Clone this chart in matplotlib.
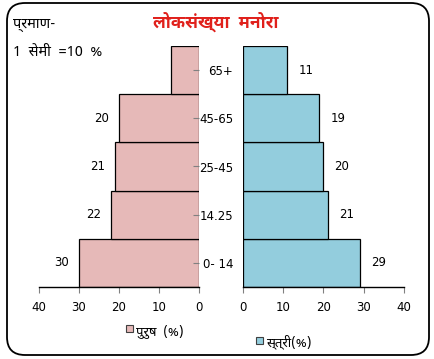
import matplotlib
matplotlib.use("Agg")
import matplotlib.pyplot as plt
from matplotlib.patches import FancyBboxPatch, Rectangle

# data (bottom to top)
age_groups = ["0- 14", "14.25", "25-45", "45-65", "65+"]
male = [30, 22, 21, 20, 7]
female = [29, 21, 20, 19, 11]
male_labels = ["30", "22", "21", "20", ""]
female_labels = ["29", "21", "20", "19", "11"]
x_ticks = [0, 10, 20, 30, 40]

pink = "#E6B9B8"
blue = "#93CDDD"
deva = ["Noto Sans Devanagari", "Noto Sans Devanagari UI", "Mukta", "DejaVu Sans"]
deva_bold = ["Noto Sans Devanagari UI", "Noto Sans Devanagari", "Mukta", "DejaVu Sans"]

fig = plt.figure(figsize=(4.35, 3.59), dpi=100)

ax_l = fig.add_axes([39 / 435, 72 / 359, 160 / 435, 241 / 359])
ax_r = fig.add_axes([243 / 435, 72 / 359, 161 / 435, 241 / 359])

pos = range(len(age_groups))
bars_l = ax_l.barh(pos, male, height=1.0, color=pink, edgecolor="black", linewidth=0.9)
bars_r = ax_r.barh(pos, female, height=1.0, color=blue, edgecolor="black", linewidth=0.9)

ax_l.set_xlim(40, 0)
ax_r.set_xlim(0, 40)
for ax in (ax_l, ax_r):
    ax.set_ylim(-0.5, 4.5)
    ax.set_xticks(x_ticks)
    ax.set_xticklabels([str(t) for t in x_ticks], fontsize=8.5)
    ax.tick_params(axis="x", length=4, color="#808080", pad=6)
    for s in ("top", "left", "right"):
        ax.spines[s].set_visible(False)
    ax.spines["bottom"].set_linewidth(1.0)

ax_l.yaxis.tick_right()
ax_l.set_yticks(list(pos))
ax_l.set_yticklabels([])
ax_l.tick_params(axis="y", length=4, color="#808080", direction="in")

ax_r.set_yticks(list(pos))
ax_r.set_yticklabels(age_groups, fontsize=8.5)
ax_r.tick_params(axis="y", length=0, pad=7)

ax_l.bar_label(bars_l, labels=male_labels, padding=7, fontsize=8.5)
ax_r.bar_label(bars_r, labels=female_labels, padding=8, fontsize=8.5)

# title and scale note
fig.text(216 / 435, 1 - 22 / 359, "लोकसंख्या  मनोरा", color="#E0201B", fontsize=12.5,
         fontweight="bold", ha="center", va="center", family=deva_bold)
fig.text(13 / 435, 1 - 24 / 359, "प्रमाण-", fontsize=10.5, ha="left", va="center", family=deva)
fig.text(13 / 435, 1 - 52 / 359, "1  सेमी  =10  %", fontsize=10.5, ha="left", va="center", family=deva)

# legend
fig.patches.append(Rectangle((126 / 435, 1 - 332 / 359), 7 / 435, 7 / 359, transform=fig.transFigure,
                             facecolor=pink, edgecolor="#404040", linewidth=0.8))
fig.text(136 / 435, 1 - 331 / 359, "पुरुष  (%)", fontsize=9.5, ha="left", va="center", family=deva)
fig.patches.append(Rectangle((256 / 435, 1 - 344 / 359), 7 / 435, 7 / 359, transform=fig.transFigure,
                             facecolor=blue, edgecolor="#404040", linewidth=0.8))
fig.text(266 / 435, 1 - 342 / 359, "स्त्री(%)", fontsize=9.5, ha="left", va="center", family=deva)

# rounded frame
frame = FancyBboxPatch((0.07, 0.04), 4.22, 3.52, boxstyle="round,pad=0,rounding_size=0.18",
                       transform=fig.dpi_scale_trans, facecolor="none", edgecolor="black", linewidth=1.3)
fig.patches.append(frame)

fig.savefig("out.png", dpi=100)
